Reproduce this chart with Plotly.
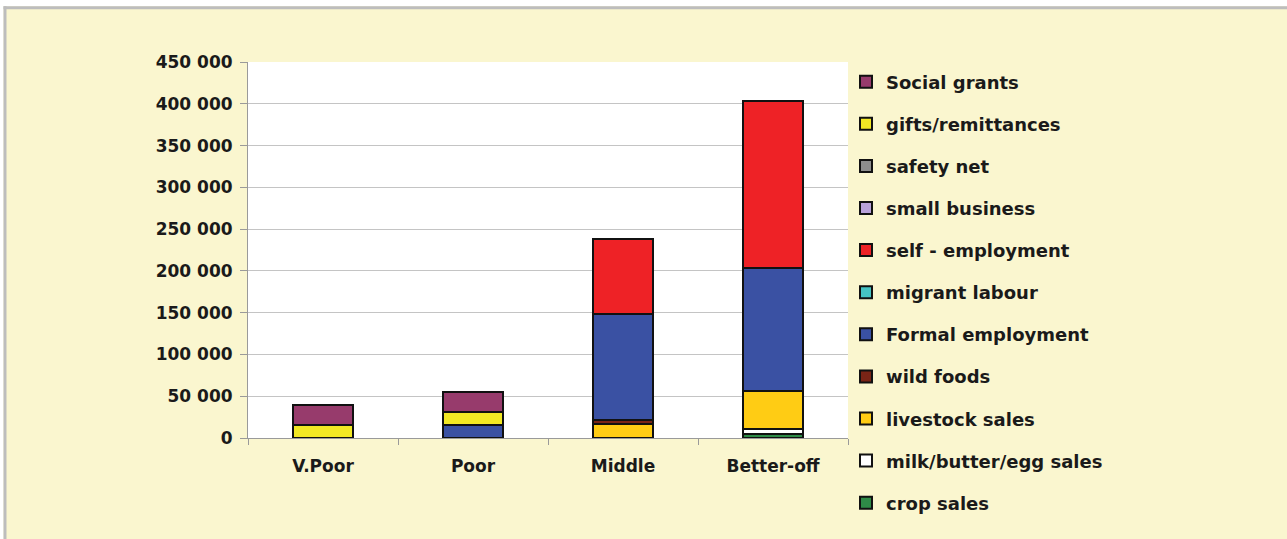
import plotly.graph_objects as go

categories = ["V.Poor", "Poor", "Middle", "Better-off"]

# series listed bottom-to-top of the stack
crop_sales = [0, 0, 0, 5000]
milk_butter_egg = [0, 0, 0, 6000]
livestock_sales = [0, 0, 17000, 45000]
wild_foods = [0, 0, 5000, 0]
formal_employment = [0, 15000, 127000, 147000]
migrant_labour = [0, 0, 0, 0]
self_employment = [0, 0, 89000, 200000]
small_business = [0, 0, 0, 0]
safety_net = [0, 0, 0, 0]
gifts_remittances = [15000, 16000, 0, 0]
social_grants = [24000, 24000, 0, 0]

series = [
    ("crop sales", crop_sales, "#2E8B47"),
    ("milk/butter/egg sales", milk_butter_egg, "#FFFFFF"),
    ("livestock sales", livestock_sales, "#FFCC14"),
    ("wild foods", wild_foods, "#7A2416"),
    ("Formal employment", formal_employment, "#3A51A3"),
    ("migrant labour", migrant_labour, "#45C4C4"),
    ("self - employment", self_employment, "#EE2226"),
    ("small business", small_business, "#B9A2DA"),
    ("safety net", safety_net, "#8E8E8E"),
    ("gifts/remittances", gifts_remittances, "#F2E824"),
    ("Social grants", social_grants, "#973B6C"),
]

y_ticks = [0, 50000, 100000, 150000, 200000, 250000, 300000, 350000, 400000, 450000]

fig = go.Figure()
n = len(series)
for i, (name, vals, col) in enumerate(series):
    fig.add_trace(go.Bar(
        x=categories, y=vals, name=name, legendgroup=name,
        legendrank=(n - i) * 10,
        marker=dict(color=col, line=dict(color="#111111", width=2)),
    ))

FONT = "DejaVu Sans"
W, H = 1287, 539
L, R, T, B = 248, 848, 61.5, 438.5

def px(x):
    return (x - L) / (R - L)

def py(y):
    return (B - y) / (B - T)

fig.update_layout(
    width=W, height=H,
    barmode="stack", bargap=0.6,
    separators=". ",
    paper_bgcolor="#FAF6CF",
    plot_bgcolor="#FFFFFF",
    margin=dict(l=L, r=W - R, t=T, b=H - B, autoexpand=False),
    showlegend=True,
    legend=dict(
        traceorder="grouped", tracegroupgap=15.7, maxheight=700,
        x=px(846), xanchor="left", y=py(63), yanchor="top",
        bgcolor="rgba(0,0,0,0)",
        font=dict(family=FONT, size=18, color="#1a1a1a", weight="bold"),
    ),
    xaxis=dict(
        showline=True, linecolor="#9a9a9a", linewidth=1,
        ticks="outside", tickson="boundaries", ticklen=6, tickcolor="#9a9a9a",
        tickfont=dict(family=FONT, size=17, color="#1a1a1a", weight="bold"),
        ticklabelstandoff=13,
        showgrid=False,
    ),
    yaxis=dict(
        range=[0, 450000], tickvals=y_ticks, tickformat=",d",
        showline=True, linecolor="#9a9a9a", linewidth=1,
        ticks="outside", ticklen=7, tickcolor="#9a9a9a",
        tickfont=dict(family=FONT, size=17, color="#1a1a1a", weight="bold"),
        ticklabelstandoff=4,
        showgrid=True, gridcolor="#C4C4C4", gridwidth=1,
        zeroline=False,
    ),
    shapes=[
        dict(type="rect", xref="paper", yref="paper",
             x0=px(-5), x1=px(W + 5), y0=py(5.5), y1=py(-5),
             fillcolor="#FFFFFF", line=dict(width=0)),
        dict(type="rect", xref="paper", yref="paper",
             x0=px(-5), x1=px(3.5), y0=py(H + 5), y1=py(-5),
             fillcolor="#FFFFFF", line=dict(width=0)),
        dict(type="rect", xref="paper", yref="paper",
             x0=px(3.5), x1=px(W + 5), y0=py(8.5), y1=py(5.5),
             fillcolor="#BDBDBD", line=dict(width=0)),
        dict(type="rect", xref="paper", yref="paper",
             x0=px(3.5), x1=px(6.5), y0=py(H + 5), y1=py(5.5),
             fillcolor="#BDBDBD", line=dict(width=0)),
    ],
)

fig.write_html(
    "out.html",
    config={"displayModeBar": False},
    post_script="document.body.style.margin='0px';document.body.style.overflow='hidden';",
)
